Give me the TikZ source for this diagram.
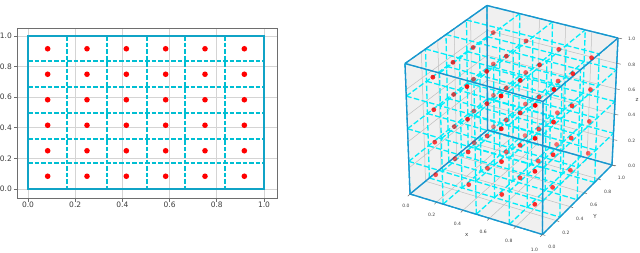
\documentclass[tikz,border=0pt]{standalone}
\usepackage{fontspec}
\setmainfont{DejaVu Sans}
\usetikzlibrary{calc}
\definecolor{cellteal}{RGB}{16,163,198}
\definecolor{celldash}{RGB}{0,190,210}
\definecolor{cubeblue}{RGB}{31,145,205}
\definecolor{cubedash}{RGB}{0,238,250}
\definecolor{ptred}{RGB}{255,0,0}
\definecolor{spinegrey}{RGB}{110,110,110}
\definecolor{gridgrey}{RGB}{212,212,212}
\definecolor{panegrey}{RGB}{240,240,240}
\definecolor{labelgrey}{RGB}{60,60,60}
\tikzset{
  spine/.style={draw=spinegrey, line width=1pt},
  grid2d/.style={draw=gridgrey, line width=0.8pt},
  border/.style={draw=cellteal, line width=1.8pt},
  cellline/.style={draw=celldash, line width=2pt, dash pattern=on 4.5pt off 2pt},
  dot2d/.style={fill=ptred},
  ticklbl/.style={font=\fontsize{7.5}{9}\selectfont, text=labelgrey, inner sep=0pt},
  pane/.style={fill=panegrey, draw=gridgrey, line width=0.6pt},
  grid3d/.style={draw=gridgrey!90!black, line width=0.5pt},
  cubeline/.style={draw=cubedash, line width=1.3pt, dash pattern=on 5.5pt off 2.4pt},
  edge/.style={draw=cubeblue, line width=1.3pt},
  tick3d/.style={draw=spinegrey, line width=0.5pt},
  lbl3d/.style={font=\fontsize{4.5}{5}\selectfont, text=labelgrey, inner sep=0pt},
  axlbl/.style={font=\fontsize{5.5}{6}\selectfont, text=labelgrey, inner sep=0pt},
}
% trilinear map of the unit cube onto the drawn box
\newcommand\cubept[3]{%
  \pgfmathsetmacro\px{(1-#3)*((1-#2)*((1-#1)*410+#1*542.5)+#2*((1-#1)*487.5+#1*612))+#3*((1-#2)*((1-#1)*405+#1*543)+#2*((1-#1)*487+#1*618))}%
  \pgfmathsetmacro\py{(1-#3)*((1-#2)*((1-#1)*194+#1*234.5)+#2*((1-#1)*130+#1*165))+#3*((1-#2)*((1-#1)*63.5+#1*101.5)+#2*((1-#1)*5.5+#1*38))}%
}
\newcommand\cubeat[4]{\cubept{#1}{#2}{#3}\coordinate (#4) at (\px,\py);}

\begin{document}
\begin{tikzpicture}[x=1pt,y=-1pt]
  \useasboundingbox (0,0) rectangle (640,252);
  % 2D panel
  \foreach \t/\lbl in {0/0.0,0.2/0.2,0.4/0.4,0.6/0.6,0.8/0.8,1/1.0}{
    \draw[grid2d] ({28+236*\t},28) -- ({28+236*\t},198);
    \draw[grid2d] (17,{189-153*\t}) -- (277,{189-153*\t});
    \draw[spine] ({28+236*\t},198) -- ({28+236*\t},201.5);
    \draw[spine] (17,{189-153*\t}) -- (13.5,{189-153*\t});
    \node[ticklbl,anchor=north] at ({28+236*\t},201.5) {\lbl};
    \node[ticklbl,anchor=east] at (12,{189-153*\t}) {\lbl};
  }
  \draw[spine] (17,28) rectangle (277,198);
  \foreach \k in {1,...,5}{
    \draw[cellline] ({2*round((27+236*\k/6)/2)+1},36) -- ({2*round((27+236*\k/6)/2)+1},189);
    \draw[cellline] (28,{2*round((188-153*\k/6)/2)+1}) -- (264,{2*round((188-153*\k/6)/2)+1});
  }
  \draw[border] (28,189) rectangle (264,36);
  \foreach \i in {0,...,5}{
    \foreach \j in {0,...,5}{
      \fill[dot2d] ({28+236*(2*\i+1)/12},{189-153*(2*\j+1)/12}) circle (2.8pt);
    }
  }
  % 3D panel
  \cubeat{0}{0}{0}{c000} \cubeat{1}{0}{0}{c100} \cubeat{0}{1}{0}{c010} \cubeat{1}{1}{0}{c110}
  \cubeat{0}{0}{1}{c001} \cubeat{1}{0}{1}{c101} \cubeat{0}{1}{1}{c011} \cubeat{1}{1}{1}{c111}
  \fill[pane] (c000) -- (c010) -- (c011) -- (c001) -- cycle;
  \fill[pane] (c010) -- (c110) -- (c111) -- (c011) -- cycle;
  \fill[pane] (c000) -- (c100) -- (c110) -- (c010) -- cycle;
  \foreach \t in {0,0.2,0.4,0.6,0.8,1}{
    \cubeat{0}{\t}{0}{a}\cubeat{0}{\t}{1}{b}\draw[grid3d] (a) -- (b);
    \cubeat{0}{0}{\t}{a}\cubeat{0}{1}{\t}{b}\draw[grid3d] (a) -- (b);
    \cubeat{\t}{1}{0}{a}\cubeat{\t}{1}{1}{b}\draw[grid3d] (a) -- (b);
    \cubeat{0}{1}{\t}{a}\cubeat{1}{1}{\t}{b}\draw[grid3d] (a) -- (b);
    \cubeat{\t}{0}{0}{a}\cubeat{\t}{1}{0}{b}\draw[grid3d] (a) -- (b);
    \cubeat{0}{\t}{0}{a}\cubeat{1}{\t}{0}{b}\draw[grid3d] (a) -- (b);
  }
  \foreach \a in {0,0.25,0.5,0.75,1}{
    \foreach \b in {0,0.25,0.5,0.75,1}{
      \cubeat{0}{\a}{\b}{a}\cubeat{1}{\a}{\b}{b}\draw[cubeline] (a) -- (b);
      \cubeat{\a}{0}{\b}{a}\cubeat{\a}{1}{\b}{b}\draw[cubeline] (a) -- (b);
      \cubeat{\a}{\b}{0}{a}\cubeat{\a}{\b}{1}{b}\draw[cubeline] (a) -- (b);
    }
  }
  \foreach \a/\b in {c000/c100,c100/c110,c110/c010,c010/c000,c001/c101,c101/c111,c111/c011,c011/c001,c000/c001,c100/c101,c110/c111,c010/c011}{\draw[edge] (\a) -- (\b);}
  \foreach \t/\lbl in {0/0.0,0.2/0.2,0.4/0.4,0.6/0.6,0.8/0.8,1/1.0}{
    \cubeat{\t}{0}{0}{a}\draw[tick3d] (a) -- ++(-2.2,2.2);
    \node[lbl3d] at ($(a)+({-4-4*\t},{12+3*\t})$) {\lbl};
    \cubeat{1}{\t}{0}{a}\draw[tick3d] (a) -- ++(2.8,1);
    \node[lbl3d] at ($(a)+(9.5,12.5)$) {\lbl};
    \cubeat{1}{1}{\t}{a}\draw[tick3d] (a) -- ++(4,0.8);
    \node[lbl3d] at ($(a)+({19.7-6*\t},1)$) {\lbl};
  }
  \node[axlbl] (xlab) at (466.7,235.3) {x};
  \node[axlbl] (ylab) at (595,216) {Y};
  \node[axlbl] (zlab) at (637,100) {z};
  \foreach \u in {0.125,0.375,0.625,0.875}{
    \foreach \v in {0.875,0.625,0.375,0.125}{
      \foreach \w in {0.125,0.375,0.625,0.875}{
        \pgfmathsetmacro\op{0.45+0.55*((0.433*\u-0.75*\v+0.5*\w)+0.54)/1.26}
        \cubept{\u}{\v}{\w}
        \fill[ptred,opacity=\op] (\px,\py) circle (2.4pt);
      }
    }
  }
\end{tikzpicture}
\end{document}
